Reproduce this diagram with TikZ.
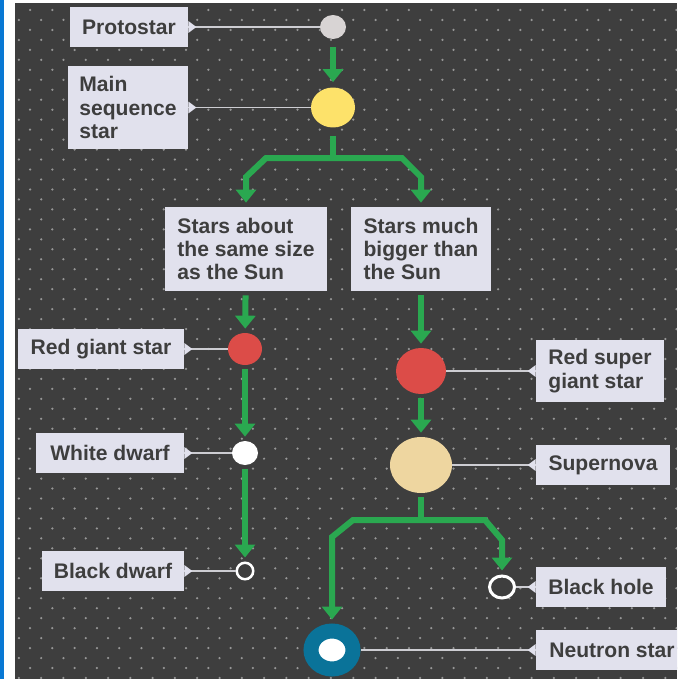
\documentclass[tikz,border=0pt]{standalone}
\usepackage{fontspec}
\setmainfont{Liberation Sans}
\usetikzlibrary{shapes.geometric,arrows.meta}
\definecolor{slate}{RGB}{62,62,62}
\definecolor{speck}{RGB}{150,150,150}
\definecolor{stripblue}{RGB}{8,120,212}
\definecolor{lblfill}{RGB}{225,225,237}
\definecolor{lbltext}{RGB}{62,62,62}
\definecolor{flowgreen}{RGB}{42,168,80}
\definecolor{leadgrey}{RGB}{205,205,210}
\definecolor{protogrey}{RGB}{216,212,212}
\definecolor{mainyellow}{RGB}{253,226,106}
\definecolor{giantred}{RGB}{220,76,72}
\definecolor{novatan}{RGB}{238,214,160}
\definecolor{neutronteal}{RGB}{10,115,153}

\begin{document}
\begin{tikzpicture}
		[x=0.02cm,y=-0.02cm,
		lbl/.style={rectangle,fill=lblfill,text=lbltext,inner sep=0pt,
font=\fontsize{12}{13.2}\selectfont\bfseries,align=left,minimum height=8mm},
		star/.style={ellipse,inner sep=0pt},
		remnant/.style={star,draw=white,fill=slate},
		flow/.style={flowgreen,line width=1.2mm,-{Triangle[width=4mm,length=2.6mm]},
shorten <=0.8mm,shorten >=0.8mm},
		trunk/.style={flowgreen,line width=1.2mm},
		link/.style={leadgrey,line width=0.3mm}]
		\clip (0,0) rectangle (677,679);
		\fill[white] (0,0) rectangle (677,679);
		\fill[stripblue] (0,0) rectangle (4,679);
		\fill[slate] (15,3) rectangle (677,679);
		\begin{scope}
			\clip (15,3) rectangle (677,679);
			\foreach \j in {0,...,67}
				\foreach \k in {-5,...,25}
					\fill[speck] ({565+11.15*mod(\j,2)-22.29*\k},{10+9.97*\j}) circle [radius=0.25mm];
		\end{scope}
		\node at (129,27) (protolbl) [lbl,minimum width=23.6mm] {Protostar};
		\node at (128,107.5) (mainseqlbl) [lbl,minimum width=24mm,minimum height=16.6mm] {Main\\sequence\\star};
		\node at (246,249) (samesize) [lbl,minimum width=32.4mm,minimum height=16.8mm] {Stars about\\the same size\\as the Sun};
		\node at (421,249) (bigger) [lbl,minimum width=28mm,minimum height=16.8mm] {Stars much\\bigger than\\the Sun};
		\node at (101,349) (redgiantlbl) [lbl,minimum width=33.2mm] {Red giant star};
		\node at (110,453) (whitedwarflbl) [lbl,minimum width=29.6mm] {White dwarf};
		\node at (113,571) (blackdwarflbl) [lbl,minimum width=28.4mm] {Black dwarf};
		\node at (600,371) (redsuperlbl) [lbl,minimum width=25.6mm,minimum height=12.6mm] {Red super\\giant star};
		\node at (603,465) (supernovalbl) [lbl,minimum width=26.8mm] {Supernova};
		\node at (601,587) (blackholelbl) [lbl,minimum width=26mm] {Black hole};
		\node at (612,650) (neutronlbl) [lbl,minimum width=30.4mm] {Neutron star};
		\node at (333,27) (proto) [star,fill=protogrey,minimum width=5.2mm,minimum height=4.8mm] {};
		\node at (333,107.5) (mainseq) [star,fill=mainyellow,minimum width=8.8mm,minimum height=8mm] {};
		\node at (245,349) (redgiant) [star,fill=giantred,minimum width=6.8mm,minimum height=6.4mm] {};
		\node at (245,453) (whitedwarf) [star,fill=white,minimum width=5.2mm,minimum height=4.8mm] {};
		\node at (245,571) (blackdwarf) [remnant,line width=0.5mm,minimum size=3.3mm] {};
		\node at (421,371) (redsuper) [star,fill=giantred,minimum width=10mm,minimum height=9.2mm] {};
		\node at (421,465) (supernova) [star,fill=novatan,minimum width=12.4mm,minimum height=11.2mm] {};
		\node at (502,587) (blackhole) [remnant,line width=0.6mm,minimum width=5mm,minimum height=4.4mm] {};
		\node at (332,650) (neutron) [star,draw=neutronteal,fill=white,line width=3mm,minimum width=8.4mm,minimum height=7.6mm] {};
		\draw[link] (protolbl.east) -- (proto);
		\draw[link] (mainseqlbl.east) -- (mainseq);
		\draw[link] (redgiantlbl.east) -- (redgiant);
		\draw[link] (whitedwarflbl.east) -- (whitedwarf);
		\draw[link] (blackdwarflbl.east) -- (blackdwarf);
		\draw[link] (redsuperlbl.west) -- (redsuper);
		\draw[link] (supernovalbl.west) -- (supernova);
		\draw[link] (blackholelbl.west) -- (blackhole);
		\draw[link] (neutronlbl.west) -- (neutron);
		\foreach \n in {protolbl,mainseqlbl,redgiantlbl,whitedwarflbl,blackdwarflbl}
			\fill[lblfill] ([yshift=1.2mm]\n.east) -- ++(1.6mm,-1.2mm) -- ([yshift=-1.2mm]\n.east) -- cycle;
		\foreach \n in {redsuperlbl,supernovalbl,blackholelbl,neutronlbl}
			\fill[lblfill] ([yshift=1.2mm]\n.west) -- ++(-1.6mm,-1.2mm) -- ([yshift=-1.2mm]\n.west) -- cycle;
		\draw[flow,shorten <=1.6mm,shorten >=1mm] (proto) -- (mainseq);
		\coordinate (split1) at (333,158);
		\draw[trunk,shorten <=1.6mm] (mainseq) -- (split1);
		\draw[flow,shorten <=0pt] (split1) -- ++(-67,0) -- ++(-20,19) -- (samesize);
		\draw[flow,shorten <=0pt] (split1) -- ++(69,0) -- ++(19,19) -- (bigger);
		\draw[flow] (samesize) -- (redgiant);
		\draw[flow] (redgiant) -- (whitedwarf);
		\draw[flow] (whitedwarf) -- (blackdwarf);
		\draw[flow] (bigger) -- (redsuper);
		\draw[flow] (redsuper) -- (supernova);
		\coordinate (split2) at (421,520);
		\draw[trunk,shorten <=0.8mm] (supernova) -- (split2);
		\draw[flow,shorten <=0pt] (split2) -- ++(-68,0) -- ++(-21,17) -- (neutron);
		\draw[flow,shorten <=0pt] (split2) -- ++(64,0) -- ++(17,20) -- (blackhole);
	\end{tikzpicture}
\end{document}
